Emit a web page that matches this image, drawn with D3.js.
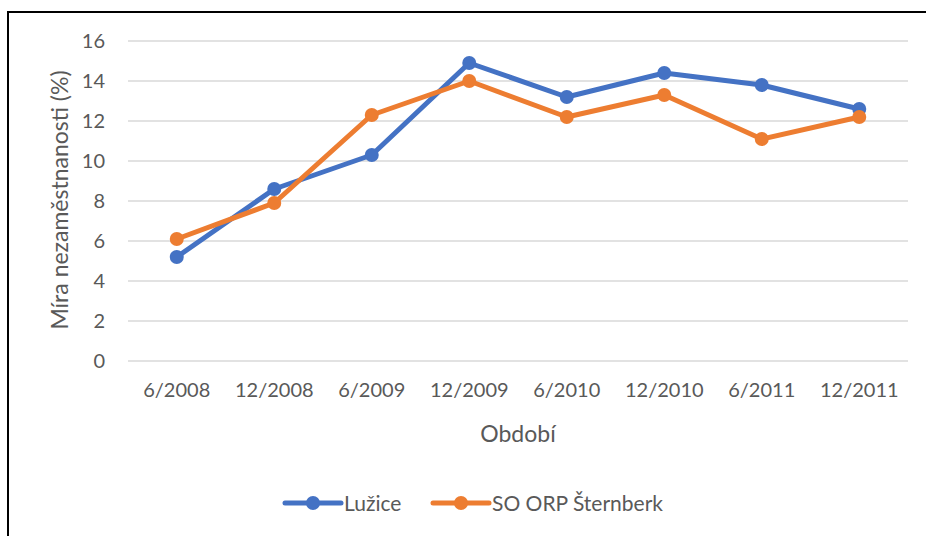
<!DOCTYPE html>
<html lang="cs">
<head>
<meta charset="UTF-8">
<title>Míra nezaměstnanosti</title>
<style>
    body { margin: 0; background: #fff; }
    svg { display: block; font-family: Lato, "Open Sans", sans-serif; }
</style>
</head>
<body>
<svg id="chart" width="926" height="536"></svg>
<script src="https://d3js.org/d3.v7.min.js"></script>
<script>
    const periods = ["6/2008", "12/2008", "6/2009", "12/2009", "6/2010", "12/2010", "6/2011", "12/2011"];
    const luzice = [5.2, 8.6, 10.3, 14.9, 13.2, 14.4, 13.8, 12.6];
    const sternberk = [6.1, 7.9, 12.3, 14.0, 12.2, 13.3, 11.1, 12.2];
    const yTicks = [0, 2, 4, 6, 8, 10, 12, 14, 16];
    const seriesNames = ["Lužice", "SO ORP Šternberk"];

    const colors = ["#4472C4", "#ED7D31"];
    const textColor = "#595959";

    const svg = d3.select("#chart");

    // outer frame, runs off the right and bottom edge like the original
    svg.append("rect")
        .attr("x", 8).attr("y", 12)
        .attr("width", 930).attr("height", 540)
        .attr("fill", "none")
        .attr("stroke", "#000")
        .attr("stroke-width", 2);

    const x = d3.scaleBand().domain(periods).range([128, 908]);
    const y = d3.scaleLinear().domain([0, 16]).range([361, 41]);

    // gridlines
    svg.append("g")
        .selectAll("line")
        .data(yTicks)
        .join("line")
        .attr("x1", 128).attr("x2", 908)
        .attr("y1", d => y(d)).attr("y2", d => y(d))
        .attr("stroke", "#d9d9d9")
        .attr("stroke-width", 1.5);

    // y axis labels
    const yAxis = svg.append("g")
        .attr("transform", "translate(118,0)")
        .call(d3.axisLeft(y).tickValues(yTicks).tickSize(0).tickPadding(0));
    yAxis.select(".domain").remove();
    yAxis.selectAll("text")
        .attr("fill", textColor)
        .style("font-size", "20px")
        .style("font-family", "Lato, sans-serif")
        .attr("text-anchor", "end")
        .attr("dx", "-13px");

    // x axis labels
    const xAxis = svg.append("g")
        .attr("transform", "translate(0,383)")
        .call(d3.axisBottom(x).tickSize(0).tickPadding(0));
    xAxis.select(".domain").remove();
    xAxis.selectAll("text")
        .attr("fill", textColor)
        .style("font-size", "20px")
        .style("font-family", "Lato, sans-serif");

    // axis titles
    svg.append("text")
        .attr("transform", "translate(68,200) rotate(-90)")
        .attr("text-anchor", "middle")
        .attr("fill", textColor)
        .style("font-size", "23px")
        .text("Míra nezaměstnanosti (%)");

    svg.append("text")
        .attr("x", 518).attr("y", 442)
        .attr("text-anchor", "middle")
        .attr("fill", textColor)
        .style("font-size", "23px")
        .text("Období");

    // series
    const series = [luzice, sternberk];
    const line = d3.line()
        .x((d, i) => x(periods[i]) + x.bandwidth() / 2)
        .y(d => y(d));

    series.forEach((values, s) => {
        svg.append("path")
            .datum(values)
            .attr("d", line)
            .attr("fill", "none")
            .attr("stroke", colors[s])
            .attr("stroke-width", 5)
            .attr("stroke-linejoin", "round");
        svg.append("g")
            .selectAll("circle")
            .data(values)
            .join("circle")
            .attr("cx", (d, i) => x(periods[i]) + x.bandwidth() / 2)
            .attr("cy", d => y(d))
            .attr("r", 7)
            .attr("fill", colors[s]);
    });

    // legend
    const legendX = [285, 433];
    seriesNames.forEach((name, s) => {
        const g = svg.append("g").attr("transform", `translate(${legendX[s]},503)`);
        g.append("line")
            .attr("x1", 0).attr("x2", 56)
            .attr("stroke", colors[s])
            .attr("stroke-width", 5)
            .attr("stroke-linecap", "round");
        g.append("circle")
            .attr("cx", 28).attr("r", 7)
            .attr("fill", colors[s]);
        g.append("text")
            .attr("x", 59).attr("y", 7.5)
            .attr("fill", textColor)
            .style("font-size", "21px")
            .text(name);
    });
</script>
</body>
</html>
